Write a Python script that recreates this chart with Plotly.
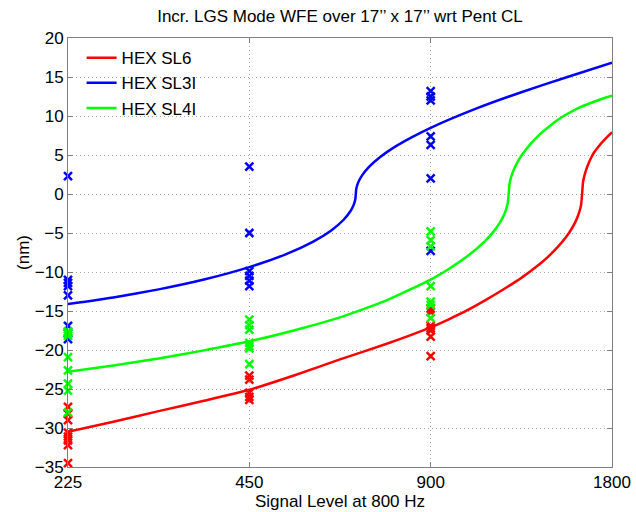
import plotly.graph_objects as go

# ---------------- data ----------------
SIGNAL = [225, 450, 900, 1800]
TICK_LABELS = ["225", "450", "900", "1800"]

series_names = ["HEX SL6", "HEX SL3I", "HEX SL4I"]
series_colors = ["#FF0000", "#0000FF", "#00FF00"]

# scattered measurements per signal level
red_points = [
    [-27.3, -28.2, -29.0, -30.6, -31.1, -31.6, -32.2, -34.5],
    [-23.3, -23.8, -25.5, -26.0, -26.4],
    [-14.7, -15.1, -16.9, -17.2, -17.5, -18.3, -20.8],
    [7.8, 3.5, 1.3, -9.7],
]
blue_points = [
    [2.3, -11.0, -11.4, -11.8, -13.0, -16.9, -17.9, -18.6],
    [3.5, -5.0, -9.9, -10.5, -11.1, -11.8],
    [13.2, 12.5, 12.0, 7.4, 6.3, 2.0, -7.3],
    [19.4, 18.9, 16.9, 14.8, 12.5, 12.0],
]
green_points = [
    [-17.6, -17.9, -18.2, -20.9, -22.6, -24.3, -25.2, -28.0],
    [-16.1, -16.8, -17.4, -19.1, -19.5, -19.8, -21.8],
    [-4.8, -5.9, -6.7, -11.8, -13.8, -14.2, -15.9],
    [17.7, 16.6, 16.0, 14.2, 13.5, 12.8, 9.0, 8.6, 4.8, 4.3],
]

# fitted curves
red_fit_x = [225, 267.6, 318.2, 378.4, 450, 535.1, 636.4, 756.8, 900, 964.6,
             1033.8, 1108.0, 1187.6, 1272.8, 1364.1, 1412.3, 1462.0, 1513.6, 1545.4, 1567.0,
             1583.4, 1594.4, 1599.9, 1605.5, 1611.0, 1616.6, 1627.9, 1644.9, 1662.0, 1679.5,
             1708.8, 1738.7, 1769.1, 1800]
red_fit_y = [-30.5, -29.2, -27.84, -26.5, -25.10, -23.24, -21.2, -19.26, -17.09, -16.06,
             -14.93, -13.64, -12.25, -10.75, -9.00, -7.99, -6.82, -5.42, -4.36, -3.48,
             -2.63, -1.86, -1.31, 0.0, 1.47, 2.07, 2.93, 3.88, 4.64, 5.29,
             6.06, 6.74, 7.36, 7.93]

blue_fit_x = [225, 267.6, 318.2, 378.4, 450, 516.9, 573.5, 614.7, 645.3, 663.4,
              670.4, 672.7, 675.0, 676.0, 677.3, 682.1, 691.6, 711.0, 741.2, 783.5,
              839.7, 900, 1070.3, 1272.8, 1513.6, 1800]
blue_fit_y = [-14.11, -13.26, -12.23, -10.97, -9.38, -7.74, -6.13, -4.70, -3.30, -2.12,
              -1.41, -1.08, -0.59, 0.0, 0.69, 1.46, 2.33, 3.48, 4.72, 6.01,
              7.33, 8.49, 10.94, 13.05, 14.97, 16.85]

green_fit_x = [225, 267.6, 318.2, 378.4, 450, 535.1, 636.4, 756.8, 900, 964.6,
               1033.8, 1108.0, 1147.1, 1171.2, 1187.6, 1200.0, 1208.3, 1212.5, 1216.7, 1220.9,
               1229.4, 1242.3, 1255.2, 1272.8, 1317.7, 1364.1, 1412.3, 1462.0, 1513.6, 1567.0,
               1622.2, 1679.5, 1738.7, 1800]
green_fit_y = [-22.80, -21.98, -21.10, -20.05, -18.89, -17.46, -15.81, -13.71, -10.97, -9.61,
               -8.02, -6.03, -4.73, -3.74, -2.90, -2.05, -1.18, 0.0, 1.30, 1.84,
               2.61, 3.45, 4.12, 4.90, 6.40, 7.62, 8.60, 9.49, 10.22, 10.86,
               11.38, 11.83, 12.25, 12.61]

Y_TICKS = [-35, -30, -25, -20, -15, -10, -5, 0, 5, 10, 15, 20]

# ---------------- figure ----------------
FONT = "Liberation Sans, Arial, Helvetica, sans-serif"
fig = go.Figure()

point_sets = [red_points, blue_points, green_points]
fits = [(red_fit_x, red_fit_y), (blue_fit_x, blue_fit_y), (green_fit_x, green_fit_y)]

for pts, col in zip(point_sets, series_colors):
    xs, ys = [], []
    for s, vals in zip(SIGNAL, pts):
        xs += [s] * len(vals)
        ys += vals
    fig.add_trace(go.Scatter(
        x=xs, y=ys, mode="markers", showlegend=False, cliponaxis=False,
        marker=dict(symbol="x-thin", size=8, color=col,
                    line=dict(color=col, width=2.5)),
        hoverinfo="skip",
    ))

for i, ((fx, fy), col, name) in enumerate(zip(fits, series_colors, series_names)):
    fig.add_trace(go.Scatter(
        x=fx, y=fy, mode="lines", name=name, legendgroup=f"g{i}",
        line=dict(color=col, width=2.5, shape="spline", smoothing=0.5),
    ))

axis_common = dict(
    showline=True, linecolor="#808080", linewidth=1, mirror="ticks",
    ticks="inside", ticklen=5, tickcolor="#808080",
    showgrid=True, gridcolor="#A8A8A8", griddash="1px,3px", gridwidth=1,
    zeroline=False, automargin=False,
    tickfont=dict(size=17, color="black", family=FONT),
)

fig.update_layout(
    width=636, height=512,
    margin=dict(l=68, r=24, t=38, b=45),
    paper_bgcolor="white", plot_bgcolor="white",
    font=dict(family=FONT, size=17, color="black"),
    title=dict(text="Incr. LGS Mode WFE over 17’’ x 17’’ wrt Pent CL",
               x=0.5, xref="paper", xanchor="center",
               y=0.968, yref="container", yanchor="middle",
               font=dict(size=17, family=FONT)),
    xaxis=dict(type="log", range=[2.35218, 3.25527],
               tickvals=SIGNAL, ticktext=TICK_LABELS,
               title=dict(text="Signal Level at 800 Hz", standoff=2,
                          font=dict(size=17, family=FONT)),
               **axis_common),
    yaxis=dict(range=[-35, 20], tickvals=Y_TICKS,
               title=dict(text="(nm)", standoff=0,
                          font=dict(size=17, family=FONT)),
               **axis_common),
    legend=dict(x=0.025, y=0.995, xanchor="left", yanchor="top",
                bgcolor="rgba(0,0,0,0)", borderwidth=0, tracegroupgap=0,
                font=dict(size=17, family=FONT)),
)

fig.write_html("out.html")
